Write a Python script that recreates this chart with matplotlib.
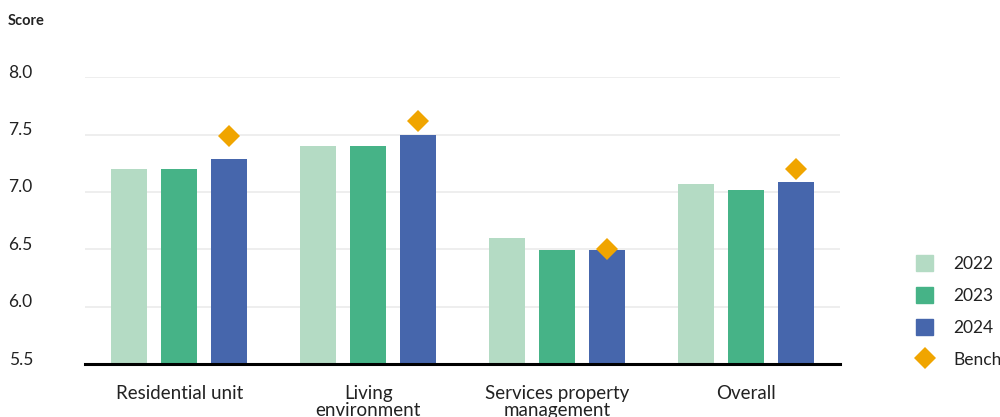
import numpy as np
import matplotlib
matplotlib.use('Agg')
import matplotlib.pyplot as plt
import matplotlib.transforms as mtrans
from matplotlib.lines import Line2D
from matplotlib.patches import Patch

plt.rcParams['font.family'] = ['Lato', 'DejaVu Sans']

# data
categories = ['Residential unit', 'Living\nenvironment',
              'Services property\nmanagement', 'Overall']
years = ['2022', '2023', '2024']
scores_2022 = [7.20, 7.40, 6.60, 7.07]
scores_2023 = [7.20, 7.40, 6.49, 7.02]
scores_2024 = [7.29, 7.50, 6.49, 7.09]
benchmark = [7.49, 7.62, 6.50, 7.20]
y_ticks = [5.5, 6.0, 6.5, 7.0, 7.5, 8.0]

COLORS = ['#b4dbc4', '#46b387', '#4666ac']
BENCH_C = '#f0a500'

fig = plt.figure(figsize=(10, 4.17), dpi=100)
ax = fig.add_axes([0.085, 0.127, 0.755, 0.688])

x = np.arange(len(categories))
width = 0.19
offset = 0.265
series = [scores_2022, scores_2023, scores_2024]
for i, vals in enumerate(series):
    ax.bar(x + (i - 1) * offset, vals, width, color=COLORS[i], zorder=2)

ax.plot(x + offset, benchmark, linestyle='none', marker='D', markersize=11,
        color=BENCH_C, markeredgewidth=0, zorder=3)

ax.set_xlim(-0.5, len(categories) - 0.5)
ax.set_ylim(5.5, 8.0)
ax.set_yticks(y_ticks)
ax.set_yticklabels([f'{t:.1f}' for t in y_ticks])
ax.yaxis.grid(True, color='#ebebeb', lw=1.2, zorder=0)
ax.set_axisbelow(True)

for s in ['top', 'right', 'left']:
    ax.spines[s].set_visible(False)
ax.spines['bottom'].set_color('black')
ax.spines['bottom'].set_linewidth(2.2)
ax.spines['bottom'].set_zorder(4)

ax.tick_params(axis='y', length=0, pad=55, labelsize=12.5, labelcolor='#222222')
shift_up = mtrans.ScaledTranslation(0, 6 / 100, fig.dpi_scale_trans)
for lbl in ax.get_yticklabels():
    lbl.set_horizontalalignment('left')
    lbl.set_transform(lbl.get_transform() + shift_up)
ax.set_xticks(x)
ax.set_xticklabels(categories, fontsize=13.5, color='#222222', linespacing=1.0)
ax.tick_params(axis='x', length=0, pad=15)

fig.text(0.008, 0.95, 'Score', fontsize=10.5, fontweight='bold',
         color='#222222', ha='left', va='center')

handles = [Patch(color=c) for c in COLORS]
handles.append(Line2D([], [], linestyle='none', marker='D', markersize=11,
                      color=BENCH_C, markeredgewidth=0))
fig.legend(handles, years + ['Benchmark'], loc='upper left',
           bbox_to_anchor=(0.916, 0.388), frameon=False, fontsize=12.5,
           handlelength=1.0, handleheight=1.0, handletextpad=1.15,
           labelspacing=0.88, borderpad=0, borderaxespad=0,
           labelcolor='#222222')

fig.savefig('out.png', dpi=100)
